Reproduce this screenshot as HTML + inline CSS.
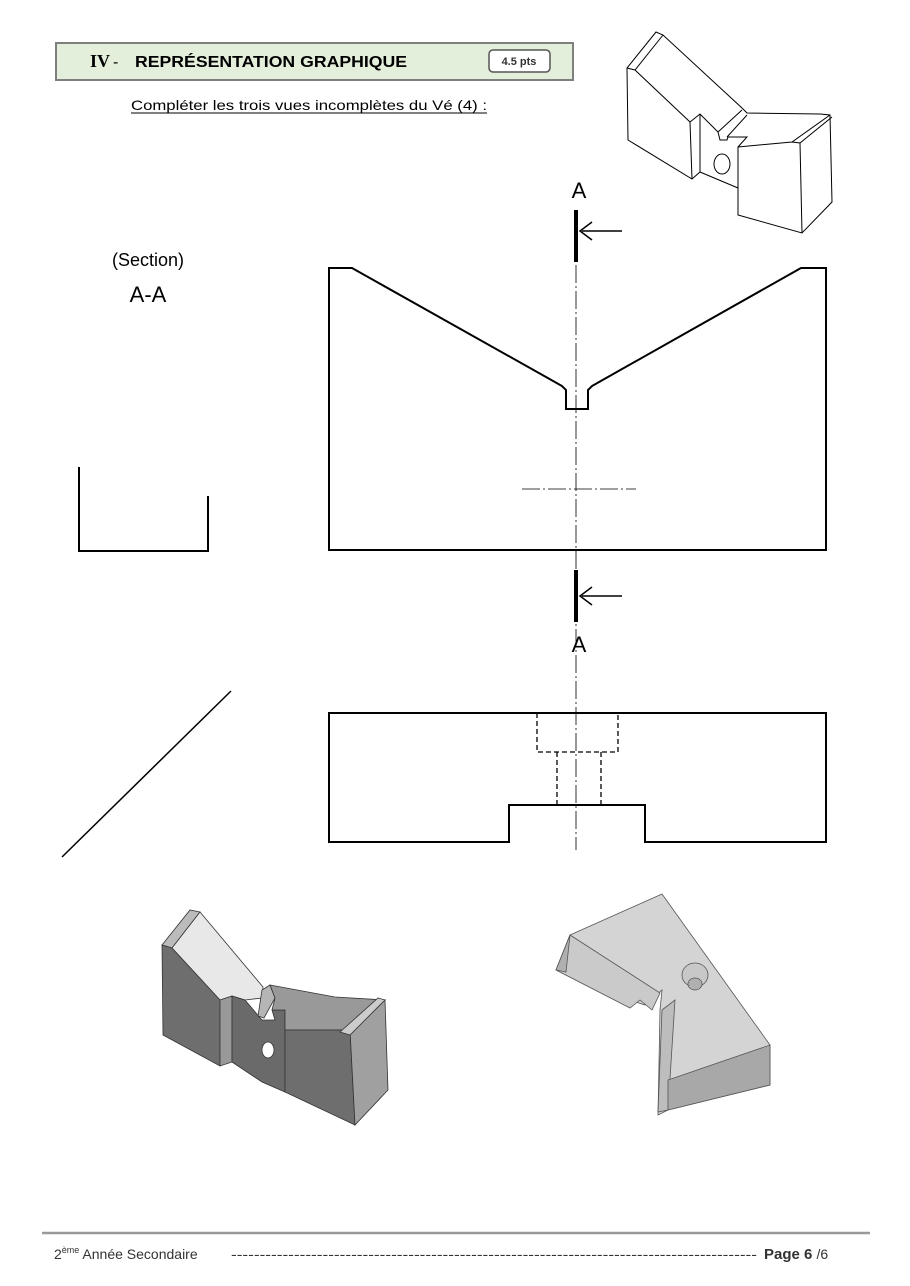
<!DOCTYPE html>
<html><head><meta charset="utf-8"><style>
body{margin:0;background:#fff;width:910px;height:1286px;overflow:hidden;font-family:"Liberation Sans","DejaVu Sans",sans-serif}
</style></head><body>
<svg width="910" height="1286" xmlns="http://www.w3.org/2000/svg" style="position:absolute;left:0;top:0">
<rect x="56" y="43" width="517" height="37" fill="#e3eedb" stroke="#7f7f7f" stroke-width="2"/>
<text x="90" y="67" font-family="Liberation Serif,serif" font-weight="bold" font-size="18">IV</text>
<text x="113" y="67" font-size="16">-</text>
<text x="135" y="67" font-weight="bold" font-size="16" textLength="272" lengthAdjust="spacingAndGlyphs">REPRÉSENTATION GRAPHIQUE</text>
<rect x="489" y="50" width="61" height="22" rx="4" fill="#fff" stroke="#555" stroke-width="1.5"/>
<text x="519" y="65" font-size="11" font-weight="bold" text-anchor="middle" fill="#333">4.5 pts</text>
<text x="131" y="110" font-size="14" textLength="356" lengthAdjust="spacingAndGlyphs">Compléter les trois vues incomplètes du Vé (4) :</text>
<line x1="131" y1="113" x2="487" y2="113" stroke="#000"/>
<!-- top iso -->
<g fill="none" stroke="#000" stroke-width="1">
<path d="M656,32 L627,68 L628,140 L692,179 L700,172 L738,188 L738,215 L802,233 L832,202 L830,115 L820,114 L747,113 L742,108 L663,35 Z"/>
<path d="M627,68 L635,70 L663,35 M635,70 L690,122 L692,179 M690,122 L700,114 L718,132 L720,140 L727,140 L728,137 L747,137 L738,147 L738,188 M700,114 L700,172 M718,132 L742,110 M727,137 L747,115 M738,147 L792,142 L830,115 M792,142 L800,143 L802,233 M800,143 L832,117"/>
<ellipse cx="722" cy="164" rx="8" ry="10"/>
</g>
<text x="148" y="266" font-size="18" text-anchor="middle">(Section)</text>
<text x="148" y="302" font-size="22" text-anchor="middle">A-A</text>
<text x="579" y="198" font-size="22" text-anchor="middle">A</text>
<text x="579" y="652" font-size="22" text-anchor="middle">A</text>
<g stroke="#000" fill="none">
<line x1="576" y1="210" x2="576" y2="262" stroke-width="4"/>
<line x1="576" y1="570" x2="576" y2="622" stroke-width="4"/>
<line x1="622" y1="231" x2="582" y2="231" stroke-width="1.5"/>
<path d="M592,222 L580,231 L592,240" stroke-width="1.5"/>
<line x1="622" y1="596" x2="582" y2="596" stroke-width="1.5"/>
<path d="M592,587 L580,596 L592,605" stroke-width="1.5"/>
<line x1="576" y1="265" x2="576" y2="850" stroke-width="0.8" stroke-dasharray="18,3,2,3"/>
<line x1="522" y1="489" x2="636" y2="489" stroke-width="0.8" stroke-dasharray="18,3,2,3"/>
<path d="M329,550 L329,268 L352,268 L562,386 L566,390 L566,409 L588,409 L588,390 L592,386 L801,268 L826,268 L826,550 Z" stroke-width="2"/>
<path d="M79,467 L79,551 L208,551 L208,496" stroke-width="2"/>
<line x1="62" y1="857" x2="231" y2="691" stroke-width="1.5"/>
<path d="M329,713 L826,713 L826,842 L645,842 L645,805 L509,805 L509,842 L329,842 Z" stroke-width="2"/>
<path d="M537,713 L537,752 L618,752 L618,713 M557,752 L557,805 M601,752 L601,805" stroke-width="1.3" stroke-dasharray="5,3"/>
</g>
<!-- bottom-left shaded iso -->
<g stroke="#333" stroke-width="0.8">
<polygon points="162,945 190,910 200,912 172,948" fill="#bbb"/>
<polygon points="172,948 200,912 263,987 262,998 245,1000 232,996 220,1000" fill="#e8e8e8"/>
<polygon points="162,945 172,948 220,1000 220,1066 163,1035" fill="#6e6e6e"/>
<polygon points="220,1000 232,996 232,1062 220,1066" fill="#999"/>
<polygon points="232,996 245,1000 262,1020 275,1020 272,1010 285,1010 285,1092 262,1082 232,1062" fill="#6a6a6a"/>
<polygon points="258,1016 262,990 270,985 275,998 264,1018" fill="#b5b5b5"/>
<polygon points="270,985 335,997 385,1000 350,1030 285,1030 285,1010 272,1010 275,998" fill="#999"/>
<polygon points="285,1030 350,1030 355,1125 285,1092" fill="#6e6e6e"/>
<polygon points="350,1030 385,1000 388,1090 355,1125" fill="#a0a0a0"/>
<polygon points="340,1032 378,998 385,1000 350,1035" fill="#ccc"/>
<ellipse cx="268" cy="1050" rx="6" ry="8" fill="#fff"/>
</g>
<!-- bottom-right shaded iso -->
<g stroke="#555" stroke-width="0.8">
<polygon points="570,935 662,894 770,1045 770,1085 668,1110 658,1115 660,1010 662,990 645,1005 630,1000 575,970 556,970" fill="#d4d4d4"/>
<polygon points="570,935 660,993 652,1010 640,1000 630,1008 556,970" fill="#cacaca"/>
<polygon points="570,935 556,970 566,972" fill="#b0b0b0"/>
<polygon points="662,1010 675,1000 668,1110 658,1112" fill="#bdbdbd"/>
<polygon points="668,1080 770,1045 770,1085 668,1110" fill="#a8a8a8"/>
<ellipse cx="695" cy="975" rx="13" ry="12" fill="#c8c8c8"/>
<ellipse cx="695" cy="984" rx="7" ry="6" fill="#b0b0b0"/>
</g>
<line x1="42" y1="1233" x2="870" y2="1233" stroke="#999" stroke-width="2.5"/>
<text x="54" y="1259" font-size="14" fill="#333">2<tspan font-size="9" dy="-6">ème</tspan><tspan dy="6"> Année Secondaire</tspan></text>
<text x="231" y="1259" font-size="14" fill="#333" textLength="526" lengthAdjust="spacingAndGlyphs">--------------------------------------------------------------------------------------------</text>
<text x="764" y="1259" font-size="15" font-weight="bold" fill="#333">Page 6 <tspan font-weight="normal" font-size="14">/6</tspan></text>
</svg>
</body></html>
